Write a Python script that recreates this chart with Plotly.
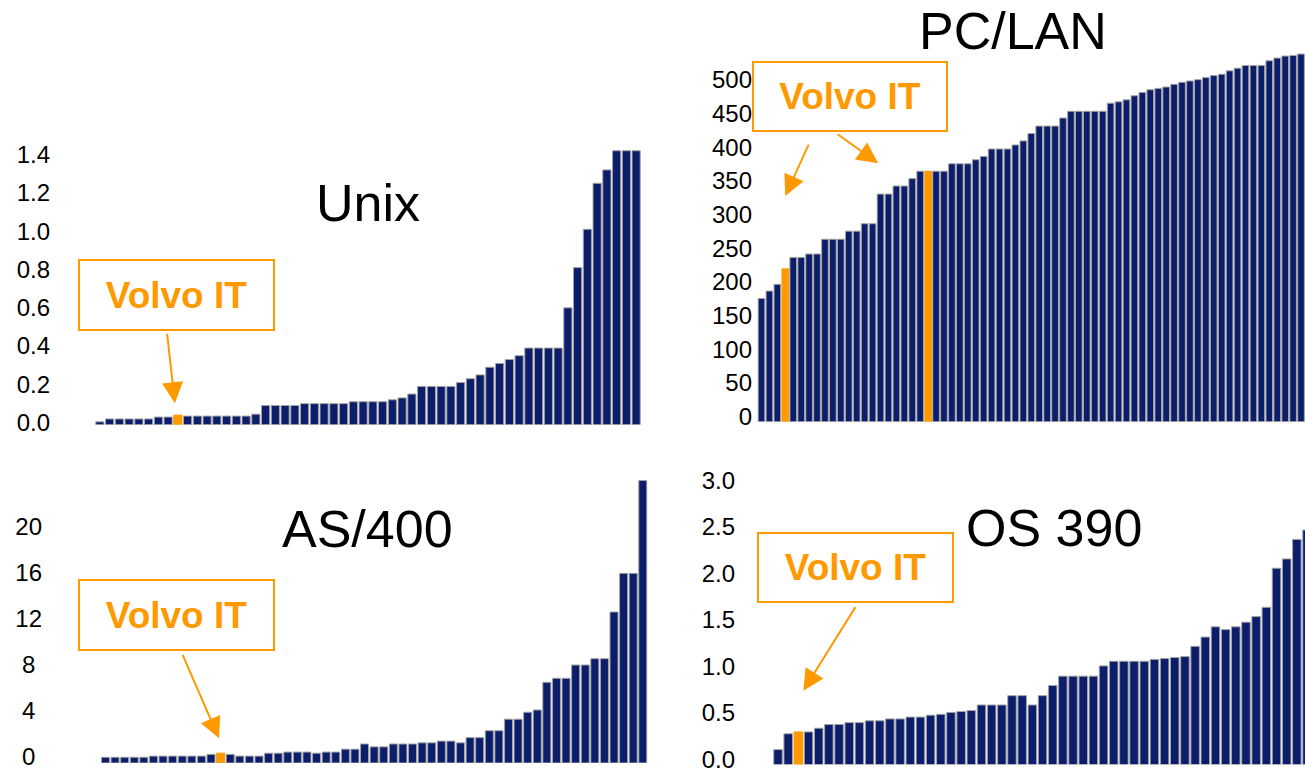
import plotly.graph_objects as go

W, H = 1305, 773

# ---------------- data ----------------
titles = ["Unix", "PC/LAN", "AS/400", "OS 390"]
highlight_label = "Volvo IT"

unix_values = [0.015, 0.03, 0.03, 0.03, 0.03, 0.03, 0.04, 0.04, 0.05, 0.045,
               0.045, 0.045, 0.045, 0.045, 0.045, 0.045, 0.055, 0.10, 0.10, 0.10,
               0.10, 0.11, 0.11, 0.11, 0.11, 0.11, 0.12, 0.12, 0.12, 0.12,
               0.13, 0.14, 0.16, 0.20, 0.20, 0.20, 0.20, 0.22, 0.24, 0.26,
               0.30, 0.32, 0.34, 0.36, 0.40, 0.40, 0.40, 0.40, 0.61, 0.82,
               1.02, 1.26, 1.33, 1.43, 1.43, 1.43]
unix_volvo = [8]
unix_ticks = [0.0, 0.2, 0.4, 0.6, 0.8, 1.0, 1.2, 1.4]
unix_ticktext = ["0.0", "0.2", "0.4", "0.6", "0.8", "1.0", "1.2", "1.4"]

pclan_values = [183, 194, 204, 227, 244, 244, 249, 249, 271, 271,
                271, 283, 283, 294, 294, 338, 338, 350, 350, 361,
                372, 372, 372, 372, 383, 383, 383, 389, 394, 405,
                405, 405, 411, 417, 428, 439, 439, 439, 451, 461,
                461, 461, 461, 461, 473, 475, 478, 484, 489, 493,
                495, 497, 501, 504, 506, 508, 511, 514, 516, 521,
                525, 529, 529, 529, 536, 540, 543, 544, 546]
pclan_volvo = [3, 21]
pclan_ticks = [0, 50, 100, 150, 200, 250, 300, 350, 400, 450, 500]
pclan_ticktext = ["0", "50", "100", "150", "200", "250", "300", "350", "400", "450", "500"]

as400_values = [0.5, 0.5, 0.5, 0.5, 0.5, 0.6, 0.6, 0.6, 0.6, 0.6,
                0.6, 0.75, 0.85, 0.75, 0.6, 0.6, 0.6, 0.85, 0.85, 0.95,
                0.95, 0.95, 0.85, 0.95, 0.95, 1.2, 1.2, 1.65, 1.4, 1.4,
                1.65, 1.65, 1.65, 1.75, 1.75, 1.9, 1.9, 1.75, 2.2, 2.2,
                2.8, 2.8, 3.8, 3.8, 4.4, 4.6, 7.0, 7.35, 7.35, 8.5,
                8.5, 9.05, 9.05, 13.1, 16.45, 16.45, 24.5]
as400_volvo = [12]
as400_ticks = [0, 4, 8, 12, 16, 20]
# single digits are centred under the two-digit labels (punctuation-space pad)
as400_ticktext = ["0\u2008", "4\u2008", "8\u2008", "12", "16", "20"]

os390_values = [0.16, 0.33, 0.35, 0.35, 0.39, 0.43, 0.43, 0.45, 0.45, 0.47,
                0.47, 0.49, 0.49, 0.51, 0.51, 0.53, 0.54, 0.56, 0.57, 0.58,
                0.64, 0.64, 0.64, 0.74, 0.74, 0.64, 0.74, 0.85, 0.95, 0.95,
                0.95, 0.95, 1.06, 1.11, 1.11, 1.11, 1.11, 1.13, 1.14, 1.15,
                1.16, 1.27, 1.37, 1.48, 1.45, 1.48, 1.53, 1.59, 1.69, 2.11,
                2.21, 2.42, 2.52]
os390_volvo = [2]
os390_ticks = [0.0, 0.5, 1.0, 1.5, 2.0, 2.5, 3.0]
os390_ticktext = ["0.0", "0.5", "1.0", "1.5", "2.0", "2.5", "3.0"]

# ---------------- styling / layout geometry ----------------
NAVY = "#0b1d6b"
EDGE = "#a4a4a4"
ORANGE = "#FF9900"
FONT = "Liberation Sans, Arial, sans-serif"


def px_x(p):
    return p / W


def px_y(p):
    return 1 - p / H


# label_shift: pixels the tick labels sit above their ticks in the reference
panels = [
    dict(values=unix_values, volvo=unix_volvo, ticks=unix_ticks, ticktext=unix_ticktext,
         xdom=(51, 641), xrange=(-5.01, 55.5), ydom=(424.7, 140), yrange=(0, 1.486),
         label_shift=-2,
         title_pos=(367.5, 203), box=(176.5, 295, 197, 72),
         arrows=[(7.7, 0.112, -8, -71)]),
    dict(values=pclan_values, volvo=pclan_volvo, ticks=pclan_ticks, ticktext=pclan_ticktext,
         xdom=(753, 1305), xrange=(-1.07, 68.5), ydom=(421.7, 50), yrange=(0, 552),
         label_shift=-5,
         title_pos=(1013, 31), box=(850, 96.5, 196, 71),
         arrows=[(3.0, 335, 24, -53), (14.7, 384, -42, -30)]),
    dict(values=as400_values, volvo=as400_volvo, ticks=as400_ticks, ticktext=as400_ticktext,
         xdom=(43, 647.6), xrange=(-6.51, 56.5), ydom=(763, 478), yrange=(0, 24.72),
         label_shift=-6,
         title_pos=(367, 529), box=(176.5, 615, 197, 72),
         arrows=[(11.83, 2.14, -37, -85)]),
    dict(values=os390_values, volvo=os390_volvo, ticks=os390_ticks, ticktext=os390_ticktext,
         xdom=(736, 1305), xrange=(-4.13, 51.8), ydom=(764.5, 478), yrange=(0, 3.08),
         label_shift=-5,
         title_pos=(1054, 527.5), box=(855.5, 567.5, 197, 71),
         arrows=[(2.49, 0.794, 53, -85)]),
]

fig = go.Figure()
annotations = []
layout_axes = {}

for i, p in enumerate(panels, start=1):
    xa = "x" if i == 1 else f"x{i}"
    ya = "y" if i == 1 else f"y{i}"
    n = len(p["values"])
    colors = [ORANGE if k in p["volvo"] else NAVY for k in range(n)]
    lines = [ORANGE if k in p["volvo"] else EDGE for k in range(n)]
    fig.add_trace(go.Bar(
        x=list(range(n)), y=p["values"], xaxis=xa, yaxis=ya,
        width=0.84,
        marker=dict(color=colors, line=dict(color=lines, width=1)),
        showlegend=False, hoverinfo="y",
    ))
    xkey = "xaxis" if i == 1 else f"xaxis{i}"
    ykey = "yaxis" if i == 1 else f"yaxis{i}"
    layout_axes[xkey] = dict(
        domain=[px_x(p["xdom"][0]), px_x(p["xdom"][1])],
        range=list(p["xrange"]), anchor=ya, automargin=False,
        showticklabels=False, showgrid=False, zeroline=False, showline=False,
        ticks="", fixedrange=True,
    )
    layout_axes[ykey] = dict(
        domain=[px_y(p["ydom"][0]), px_y(p["ydom"][1])],
        range=list(p["yrange"]), anchor=xa, automargin=False,
        tickvals=p["ticks"], ticktext=p["ticktext"],
        ticklabeloverflow="allow", ticklabelshift=int(p["label_shift"]),
        tickfont=dict(family=FONT, size=24, color="black"),
        showgrid=False, zeroline=False, showline=False, ticks="",
        fixedrange=True,
    )
    # panel title
    tx, ty = p["title_pos"]
    annotations.append(dict(
        text=titles[i - 1], x=px_x(tx), y=px_y(ty), xref="paper", yref="paper",
        xanchor="center", yanchor="middle", showarrow=False,
        font=dict(family=FONT, size=52, color="black"),
    ))
    # Volvo IT box
    bx, by, bw, bh = p["box"]
    annotations.append(dict(
        text=f"<b>{highlight_label}</b>", x=px_x(bx), y=px_y(by),
        xref="paper", yref="paper", xanchor="center", yanchor="middle",
        showarrow=False, width=bw - 6, height=bh - 6, borderpad=1,
        bordercolor=ORANGE, borderwidth=2, bgcolor="white",
        font=dict(family=FONT, size=37, color=ORANGE),
    ))
    # arrows
    for (ax_x, ax_y, dx, dy) in p["arrows"]:
        annotations.append(dict(
            text="", x=ax_x, y=ax_y, xref=xa, yref=ya, ax=dx, ay=dy,
            showarrow=True, arrowhead=2, arrowsize=2.1, arrowwidth=2,
            arrowcolor=ORANGE,
        ))

fig.update_layout(
    width=W, height=H,
    margin=dict(l=0, r=0, t=0, b=0, autoexpand=False),
    paper_bgcolor="white", plot_bgcolor="white",
    showlegend=False,
    annotations=annotations,
    font=dict(family=FONT),
    **layout_axes,
)

fig.write_html("out.html",
               config={"displayModeBar": False},
               post_script="document.body.style.margin='0';document.body.style.overflow='hidden';")
